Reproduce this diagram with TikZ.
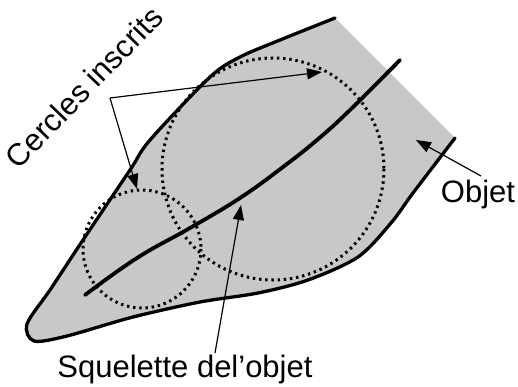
\documentclass[tikz,border=0pt]{standalone}
\usepackage{fontspec}
\setmainfont{Liberation Sans}
\usetikzlibrary{arrows.meta}
\definecolor{objgray}{RGB}{200,200,200}
\begin{document}
\begin{tikzpicture}[x=1pt,y=-1pt,
  lbl/.style={font=\fontsize{31}{36}\selectfont, inner sep=0pt},
  outline/.style={line width=3.3pt, line cap=round, line join=round},
  incircle/.style={line width=3pt, dash pattern=on 2.4pt off 3.8pt},
  skel/.style={line width=3.8pt, line cap=round},
  pointer/.style={line width=1.2pt, -{Triangle[length=15pt,width=11pt]}},
]
\useasboundingbox (0,0) rectangle (518,387);
% object
\fill[objgray] plot[smooth,tension=0.5] coordinates {(455,138) (413,193) (391,223) (358,257) (308,280) (258,293) (200,302) (133,317) (67,336) (34,341) (27,324) (50,290) (83,240) (130,170) (150,140) (210,77) (240,57) (280,40) (335,18)} -- cycle;
\draw[outline] plot[smooth,tension=0.5] coordinates {(455,138) (413,193) (391,223) (358,257) (308,280) (258,293) (200,302) (133,317) (67,336) (34,341) (27,324) (50,290) (83,240) (130,170) (150,140) (210,77) (240,57) (280,40) (335,18)};
% inscribed circles
\draw[incircle] (142,249) circle[radius=59];
\draw[incircle] (273,169) circle[radius=111];
% skeleton
\draw[skel] plot[smooth,tension=0.7] coordinates {(85,295) (137,258) (190,228) (240,198) (283,167) (317,140) (350,110) (400,60)};
% labels
\node[lbl, rotate=46] (cercles) at (84,87) {Cercles inscrits};
\node[lbl, anchor=base] (objet) at (478,202) {Objet};
\node[lbl, anchor=base] (squel) at (185,377) {Squelette del'objet};
% pointers
\coordinate (fork) at (110,98);
\coordinate (tipA) at (322,72);
\coordinate (tipB) at (137,189);
\coordinate (tipC) at (416,140);
\coordinate (tipD) at (241,205);
\coordinate (tailD) at (215,353);
\coordinate (tailC) at (481,176);
\draw[pointer] (fork) -- (tipA);
\draw[pointer] (fork) -- (tipB);
\draw[pointer] (tailC) -- (tipC);
\draw[pointer] (tailD) -- (tipD);
\end{tikzpicture}
\end{document}
